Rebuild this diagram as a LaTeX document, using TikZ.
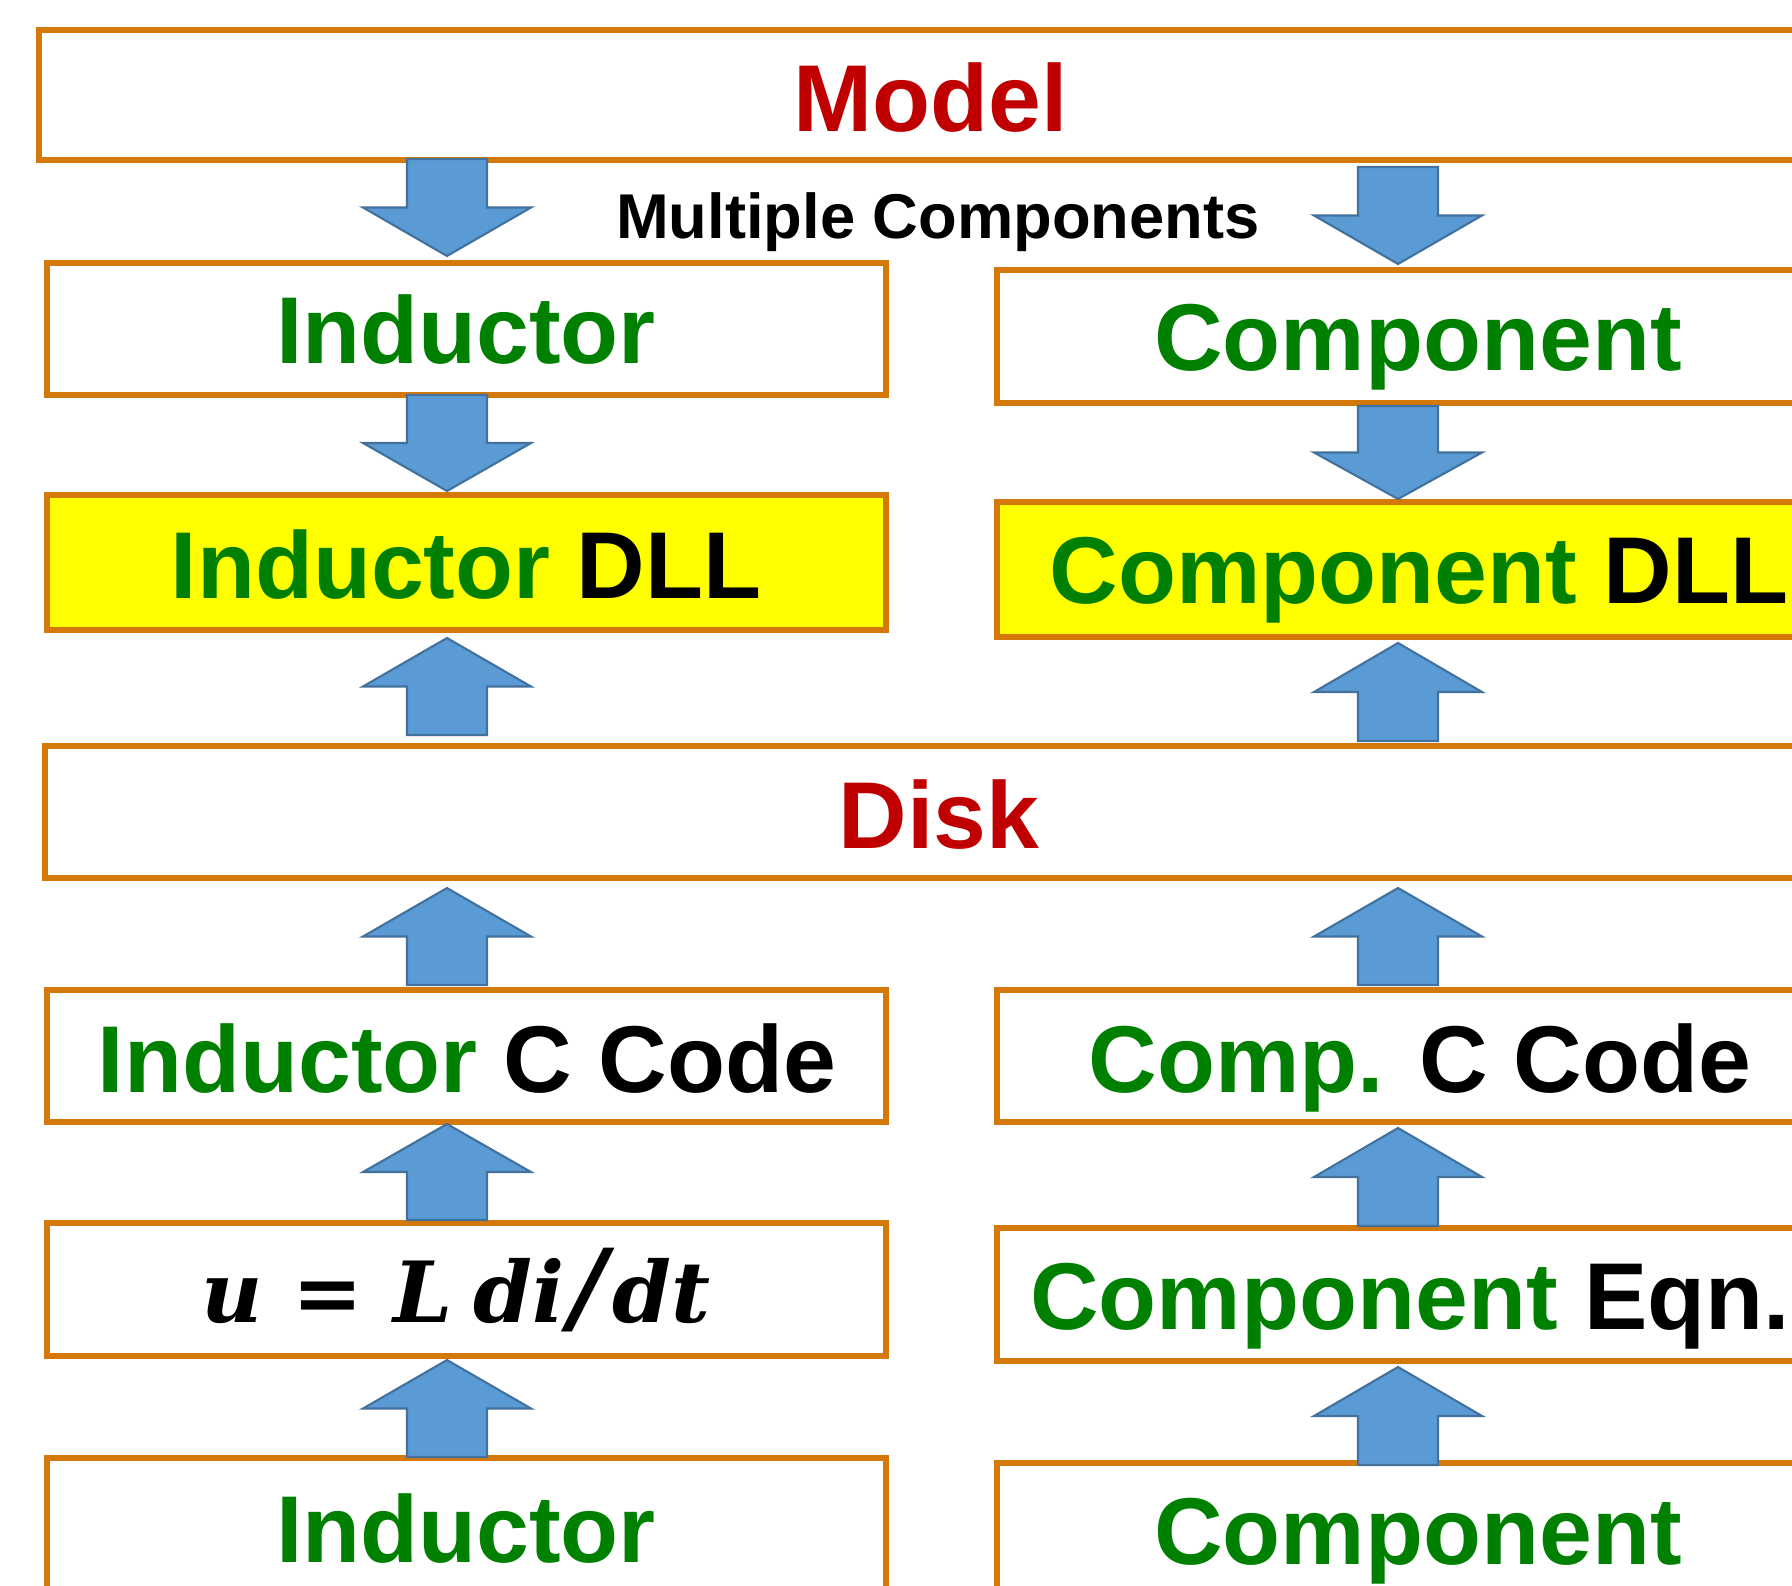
\documentclass[tikz,border=0pt]{standalone}
\usepackage[no-math]{fontspec}
\setmainfont{Liberation Sans}
\newfontfamily\eqnfont{DejaVu Serif}
\definecolor{color_box_border}{HTML}{D4780A}
\definecolor{color_dll_bg}{HTML}{FFFF00}
\definecolor{color_label_green}{HTML}{008000}
\definecolor{color_label_red}{HTML}{C00000}
\definecolor{color_arrow_fill}{HTML}{5B9BD5}
\definecolor{color_arrow_border}{HTML}{41719C}
\def\boxlinewidth{1.6pt}
\def\bigfont{\fontsize{27}{32}\selectfont\bfseries}
\def\flowbox[#1](#2,#3,#4,#5){
    \draw[#1,draw=color_box_border,line width=\boxlinewidth] (#2,#3) rectangle (#4,#5);
}
\def\blockarrow(#1,#2,#3){
    \pgfmathsetmacro\arrowmid{(#2+#3)/2}
    \filldraw[fill=color_arrow_fill,draw=color_arrow_border,line width=0.6pt]
        (#1-40,#2) -- (#1-40,\arrowmid) -- (#1-84,\arrowmid) -- (#1,#3)
        -- (#1+84,\arrowmid) -- (#1+40,\arrowmid) -- (#1+40,#2) -- cycle;
}

\begin{document}
\begin{tikzpicture}[x=0.01cm,y=-0.01cm]
        \useasboundingbox (0,0) rectangle (1792,1586);
        \clip (0,0) rectangle (1792,1586);
        % boxes, the right ends run off the page
        \flowbox[fill=white](39,30,1900,160)
        \flowbox[fill=white](47,263,886,395)
        \flowbox[fill=white](997,270,1900,403)
        \flowbox[fill=color_dll_bg](47,495,886,630)
        \flowbox[fill=color_dll_bg](997,502,1900,637)
        \flowbox[fill=white](45,746,1900,878)
        \flowbox[fill=white](47,990,886,1122)
        \flowbox[fill=white](997,990,1900,1122)
        \flowbox[fill=white](47,1223,886,1356)
        \flowbox[fill=white](997,1228,1900,1361)
        \flowbox[fill=white](47,1458,886,1700)
        \flowbox[fill=white](997,1463,1900,1700)
        % labels
        \node[color_label_red,font=\bigfont] (model) at (931,98) {Model};
        \node[font=\fontsize{18}{22}\selectfont\bfseries] (multi) at (938,222) {Multiple Components};
        \node[color_label_green,font=\bigfont] (indtop) at (466,330) {Inductor};
        \node[color_label_green,font=\bigfont] (comptop) at (1418,347) {Component};
        \node[font=\bigfont] (inddll) at (466,565) {{\color{color_label_green}Inductor} DLL};
        \node[font=\bigfont] (compdll) at (1419,580) {{\color{color_label_green}Component} DLL};
        \node[color_label_red,font=\bigfont] (disk) at (939,815) {Disk};
        \node[font=\bigfont] (indcode) at (467,1059) {{\color{color_label_green}Inductor} C Code};
        \node[font=\bigfont] (compcode) at (1420,1068) {{\color{color_label_green}Comp.} C Code};
        \node[anchor=base,font=\fontsize{24}{28}\selectfont\eqnfont\bfseries\itshape] (indeqn) at (456,1322)
            {u\hspace{0.35em}{\upshape=}\hspace{0.35em}L\hspace{0.25em}di\hspace{0.06em}{\fontsize{29}{29}\selectfont/}\hspace{0.06em}dt};
        \node[font=\bigfont] (compeqn) at (1410,1306) {{\color{color_label_green}Component} Eqn.};
        \node[color_label_green,font=\bigfont] (indbot) at (466,1529) {Inductor};
        \node[color_label_green,font=\bigfont] (compbot) at (1418,1541) {Component};
        % the arrows
        \blockarrow(447,159,256)
        \blockarrow(447,395,491)
        \blockarrow(1398,167,264)
        \blockarrow(1398,406,499)
        \foreach \ax/\abase/\atip in {447/735/638, 447/985/888, 447/1220/1124, 447/1457/1360,
                                      1398/741/643, 1398/985/888, 1398/1226/1128, 1398/1465/1367}
            {\blockarrow(\ax,\abase,\atip)}
    \end{tikzpicture}
\end{document}
